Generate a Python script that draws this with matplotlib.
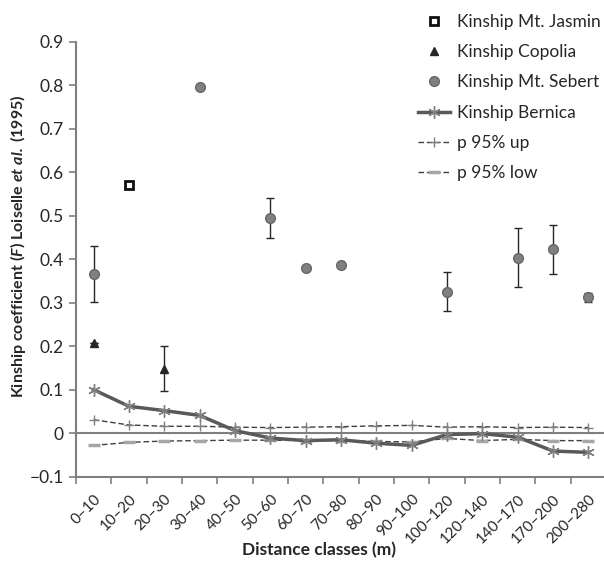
import numpy as np
import matplotlib
matplotlib.use("Agg")
import matplotlib.pyplot as plt
from matplotlib.lines import Line2D

plt.rcParams['font.family'] = ['Lato', 'DejaVu Sans']
plt.rcParams['mathtext.fontset'] = 'custom'
plt.rcParams['mathtext.rm'] = 'Lato:bold'
plt.rcParams['mathtext.bf'] = 'Lato:bold'
plt.rcParams['mathtext.it'] = 'Lato:bold:italic'
plt.rcParams['mathtext.bfit'] = 'Lato:bold:italic'

categories = ["0\u201310", "10\u201320", "20\u201330", "30\u201340", "40\u201350", "50\u201360",
              "60\u201370", "70\u201380", "80\u201390", "90\u2013100", "100\u2013120",
              "120\u2013140", "140\u2013170", "170\u2013200", "200\u2013280"]
nan = np.nan
jasmin = [nan, 0.571, nan, nan, nan, nan, nan, nan, nan, nan, nan, nan, nan, nan, nan]
copolia = [0.208, nan, 0.148, nan, nan, nan, nan, nan, nan, nan, nan, nan, nan, nan, nan]
copolia_err = [0, 0, 0.052, 0, 0, 0, 0, 0, 0, 0, 0, 0, 0, 0, 0]
sebert = [0.366, nan, nan, 0.796, nan, 0.496, 0.380, 0.386, nan, nan, 0.326, nan, 0.404, 0.423, 0.313]
sebert_err = [0.064, 0, 0, 0, 0, 0.046, 0, 0, 0, 0, 0.045, 0, 0.068, 0.056, 0.010]
bernica = [0.100, 0.062, 0.052, 0.041, 0.006, -0.011, -0.017, -0.015, -0.023, -0.028,
           -0.003, -0.001, -0.009, -0.041, -0.044]
p95_up = [0.031, 0.019, 0.016, 0.016, 0.014, 0.013, 0.014, 0.015, 0.017, 0.018,
          0.014, 0.015, 0.013, 0.014, 0.013]
p95_low = [-0.028, -0.021, -0.018, -0.017, -0.016, -0.016, -0.017, -0.017, -0.019, -0.020,
           -0.012, -0.017, -0.014, -0.017, -0.017]
yticks = [-0.1, 0, 0.1, 0.2, 0.3, 0.4, 0.5, 0.6, 0.7, 0.8, 0.9]
ytick_labels = ["\u22120.1", "0", "0.1", "0.2", "0.3", "0.4", "0.5", "0.6", "0.7", "0.8", "0.9"]

fig = plt.figure(figsize=(6.04, 5.64), dpi=100)
ax = fig.add_axes([76/604, 1-476.7/564, 530/604, (476.7-42)/564])
x = np.arange(len(categories))

ax.axhline(0, color='#7f7f7f', lw=1.5, zorder=1)

ax.plot(x, p95_up, ls=(0, (4, 2)), color='#404040', lw=1.0, marker='+', ms=7,
        mec='#808080', mew=1.0, zorder=2)
ax.plot(x, p95_low, ls=(0, (4, 2)), color='#404040', lw=1.0, marker='_', ms=8,
        mec='#a6a6a6', mew=2.5, zorder=2)
ax.plot(x, bernica, color='#595959', lw=2.5, marker=(6, 2, 0), ms=9,
        mec='#808080', mew=1.0, zorder=3)

ax.errorbar(x, sebert, yerr=sebert_err, fmt='o', ms=7, mfc='#808080', mec='#666666',
            mew=1.0, ecolor='#262626', elinewidth=1.0, capsize=3, capthick=1.0, zorder=4)
ax.errorbar(x, copolia, yerr=copolia_err, fmt='^', ms=6, mfc='#262626', mec='#262626',
            ecolor='#262626', elinewidth=1.0, capsize=3, capthick=1.0, zorder=4)
ax.plot(x, jasmin, 's', ms=6, mfc='white', mec='#111111', mew=2.0, zorder=5)

ax.set_xlim(-0.5, len(categories) - 0.5)
ax.set_ylim(-0.1, 0.9)
ax.set_yticks(yticks)
ax.set_yticklabels(ytick_labels)
ax.set_xticks(np.arange(-0.5, len(categories), 1.0))
ax.set_xticklabels([])
ax.set_xticks(x, minor=True)
ax.set_xticklabels(categories, minor=True, rotation=45, ha='right', va='top',
                   rotation_mode='anchor')
ax.tick_params(axis='x', which='minor', length=0, pad=11, labelsize=11, colors='#262626')
ax.tick_params(axis='x', which='major', length=5, width=1.2, color='#7f7f7f')
ax.tick_params(axis='y', length=5, width=1.2, color='#7f7f7f', labelsize=12.5,
               labelcolor='#262626', pad=4)
for s in ['top', 'right']:
    ax.spines[s].set_visible(False)
for s in ['left', 'bottom']:
    ax.spines[s].set_color('#7f7f7f')
    ax.spines[s].set_linewidth(1.5)

ax.set_ylabel(r"Kinship coefficient ($\mathbfit{F}$) Loiselle $\mathbfit{et\ al.}$ (1995)",
              fontweight='bold', fontsize=11.5, color='#262626')
ax.yaxis.set_label_coords(-48/530, (476.7 - 246.5) / 434.7)
ax.set_xlabel("Distance classes (m)", fontweight='bold', fontsize=12.5, color='#262626')
ax.xaxis.set_label_coords((319 - 76) / 530, (476.7 - 542) / 434.7)

handles = [
    Line2D([], [], ls='none', marker='s', ms=6, mfc='white', mec='#111111', mew=2.0),
    Line2D([], [], ls='none', marker='^', ms=6, mfc='#262626', mec='#262626'),
    Line2D([], [], ls='none', marker='o', ms=7, mfc='#808080', mec='#666666'),
    Line2D([], [], color='#595959', lw=2.5, marker=(6, 2, 0), ms=9, mec='#808080', mew=1.0),
    Line2D([], [], ls=(0, (4, 2)), color='#404040', lw=1.0, marker='+', ms=7, mec='#808080'),
    Line2D([], [], ls=(0, (4, 2)), color='#404040', lw=1.0, marker='_', ms=8, mec='#a6a6a6', mew=2.5),
]
labels = ["Kinship Mt. Jasmin", "Kinship Copolia", "Kinship Mt. Sebert", "Kinship Bernica",
          "p 95% up", "p 95% low"]
leg = fig.legend(handles, labels, loc='upper left', bbox_to_anchor=(411/604, 1-7/564),
                 frameon=False, fontsize=12.5, handlelength=1.85, handletextpad=0.4,
                 labelspacing=0.82, borderaxespad=0)
for t in leg.get_texts():
    t.set_color('#262626')

fig.savefig("out.png", dpi=100)
